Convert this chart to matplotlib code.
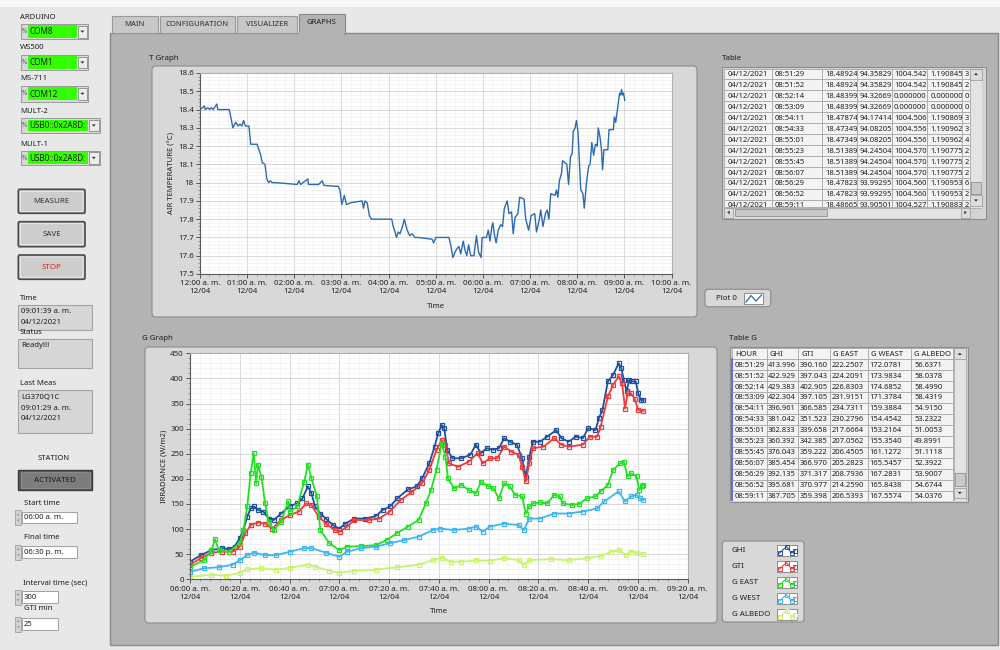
import matplotlib
matplotlib.use("Agg")
import matplotlib.pyplot as plt
from matplotlib import font_manager as fm
from matplotlib.patches import Rectangle, FancyBboxPatch, Polygon
from matplotlib.ticker import AutoMinorLocator

# ------------------------------------------------------------------ data
T_MINUTES = [0, 3.2, 5.5, 6.8, 10, 12.3, 14.5, 16.8, 21.4, 22.7, 37.3, 39.5, 41.8, 45.5, 48.6,
             50.9, 53.2, 55.5, 57.7, 62.3, 64.5, 72.7, 75, 77.3, 79.1, 82.7, 85, 87.3, 89.5, 91.8,
             96.4, 123.6, 126, 128, 137.3, 138, 151, 155.5, 157.7, 172.7, 176, 178, 180.5, 183.6,
             186.4, 191.8, 206.4, 208, 210, 212.7, 215.5, 218, 244, 245.9, 248.2, 250, 252.3,
             254.5, 257.7, 260, 263.6, 266.8, 270, 273.6, 277.3, 287.3, 295.5, 297.3, 300, 316.8,
             319, 321.8, 324.5, 327.3, 329.5, 331.8, 335, 337.3, 339.5, 341.8, 344.5, 348.6, 351.8,
             354.5, 357.7, 359, 364.5, 366.8, 369, 371.4, 372.7, 374.5, 376.8, 379.5, 382.7, 385,
             387.3, 390.9, 393.2, 396.4, 398.6, 400.9, 404.5, 406.8, 412.3, 414.5, 418.2, 421.4,
             426, 428.2, 431.4, 433.6, 436.4, 439.5, 441.8, 444, 446.4, 451.8, 453.6, 455.5, 457.3,
             460, 461.4, 466.8, 469, 471.4, 473.6, 475, 477.3, 479, 481, 482.7, 484.5, 487.3, 489,
             491.8, 494.5, 496.4, 498.6, 500.9, 503.2, 505.5, 506.8, 509, 510.9, 512.3, 514, 519,
             520.5, 526, 527.3, 529, 531.8, 534, 535.5, 536.4, 537.7, 539, 540.5]
T_VALUES = [18.40, 18.41, 18.42, 18.40, 18.41, 18.40, 18.41, 18.40, 18.43, 18.40, 18.40, 18.35,
            18.30, 18.33, 18.31, 18.32, 18.31, 18.34, 18.31, 18.31, 18.21, 18.21, 18.18, 18.15,
            18.11, 18.10, 18.02, 18.00, 18.01, 18.00, 18.00, 17.99, 18.01, 17.99, 18.02, 17.99,
            17.99, 18.01, 17.985, 17.98, 17.98, 17.96, 17.88, 17.93, 17.88, 17.89, 17.90, 17.86,
            17.90, 17.89, 17.82, 17.80, 17.80, 17.76, 17.73, 17.70, 17.73, 17.72, 17.76, 17.80,
            17.74, 17.71, 17.72, 17.70, 17.70, 17.695, 17.69, 17.67, 17.70, 17.70, 17.66, 17.59,
            17.62, 17.64, 17.65, 17.61, 17.68, 17.63, 17.60, 17.66, 17.60, 17.60, 17.71, 17.62,
            17.59, 17.70, 17.70, 17.74, 17.68, 17.76, 17.78, 17.72, 17.67, 17.74, 17.77, 17.76,
            17.86, 17.90, 17.83, 17.84, 17.72, 17.81, 17.83, 17.92, 17.91, 17.80, 17.74, 17.82,
            17.83, 17.73, 17.79, 17.85, 17.76, 17.83, 17.85, 17.80, 17.94, 17.93, 17.96, 17.92,
            18.01, 18.05, 18.12, 18.10, 17.99, 18.14, 18.16, 18.28, 18.30, 18.34, 18.28, 18.12,
            17.96, 17.94, 17.86, 18.00, 18.09, 18.10, 18.22, 18.15, 18.21, 18.20, 18.30, 18.25,
            18.18, 18.07, 18.18, 18.18, 18.29, 18.29, 18.36, 18.33, 18.42, 18.49, 18.48, 18.51,
            18.48, 18.49, 18.45]
T_XTICKS = [0, 60, 120, 180, 240, 300, 360, 420, 480, 540, 600]
T_XTICKLABELS = ['12:00 a. m.\n12/04', '01:00 a. m.\n12/04', '02:00 a. m.\n12/04',
                 '03:00 a. m.\n12/04', '04:00 a. m.\n12/04', '05:00 a. m.\n12/04',
                 '06:00 a. m.\n12/04', '07:00 a. m.\n12/04', '08:00 a. m.\n12/04',
                 '09:00 a. m.\n12/04', '10:00 a. m.\n12/04']
T_YTICKS = [17.5, 17.6, 17.7, 17.8, 17.9, 18.0, 18.1, 18.2, 18.3, 18.4, 18.5, 18.6]
T_YTICKLABELS = ['17.5', '17.6', '17.7', '17.8', '17.9', '18', '18.1', '18.2', '18.3', '18.4',
                 '18.5', '18.6']

# G graph: minutes after 06:00
GHI_MIN = [0, 4.3, 8.6, 12.9, 15.8, 17.9, 20, 21.5, 23, 24.4, 25.8, 27.3, 29.4, 31.6, 33.7, 36.6,
           40.2, 43.1, 45.2, 47.4, 48.8, 50.3, 52.4, 54.6, 57.4, 60, 62.5, 66, 70.4, 74.7, 77.5,
           80.4, 83.3, 87.6, 91.2, 93.3, 96.2, 98.3, 99.8, 101.2, 102.2, 103.4, 105.5, 109.1,
           112.7, 114.9, 117, 119.2, 122, 124.2, 126.3, 128.5, 131.4, 133.5, 135, 136.4, 137.8,
           140.7, 143.6, 147.2, 149.3, 152.2, 155.1, 157.9, 160.1, 163, 164.4, 165.8, 168, 170.1,
           172.3, 173.4, 174.4, 175.5, 176.6, 177.7, 179.2, 180.2, 181.3, 182.3]
GHI_VAL = [35, 48, 58, 62, 60, 65, 82, 98, 125, 141, 145, 138, 135, 121, 118, 131, 146, 151, 161,
           185, 171, 145, 131, 121, 108, 101, 111, 121, 121, 126, 138, 145, 161, 179, 185, 201,
           231, 264, 291, 307, 301, 258, 241, 241, 248, 268, 251, 261, 258, 261, 281, 274, 268,
           241, 204, 244, 274, 274, 284, 297, 281, 274, 284, 281, 301, 297, 321, 337, 394, 407,
           430, 420, 397, 374, 397, 394, 394, 370, 357, 357]
GTI_MIN = [0, 4.3, 8.6, 12.9, 17.2, 20, 22.3, 24.4, 27.3, 30.2, 33, 36.6, 40.2, 43.8, 46.7, 48.8,
           51.7, 54.6, 58.1, 60.3, 63.2, 66, 71.8, 76.1, 80.4, 84.7, 89, 93.3, 96.2, 99.1, 101.2,
           102.7, 104.1, 107.7, 112, 115.6, 117.7, 120.6, 123.5, 126.3, 129.2, 132.1, 133.5, 135,
           136.4, 137.8, 142.1, 146.4, 149.3, 152.2, 157.9, 160.8, 163.7, 165.1, 168, 170.1,
           172.3, 173.7, 174.9, 175.9, 177.3, 178.7, 180.2, 182.3]
GTI_VAL = [29, 42, 53, 55, 55, 65, 92, 108, 113, 111, 101, 118, 128, 135, 151, 148, 125, 111, 98,
           95, 105, 118, 118, 121, 135, 158, 173, 191, 218, 258, 277, 268, 231, 224, 234, 251,
           231, 241, 241, 264, 254, 248, 224, 195, 231, 261, 264, 281, 268, 264, 268, 284, 284,
           304, 364, 387, 404, 390, 340, 370, 370, 360, 337, 335]
GEAST_MIN = [0, 5.7, 8.6, 10.1, 11.5, 15.8, 20, 21.5, 23, 24.4, 25.6, 26.6, 27.3, 28.7, 30.2,
             31.6, 33.7, 36.6, 39.5, 40.2, 43.1, 45.9, 47.4, 48.8, 51, 52.4, 56, 60, 63.2, 68.9,
             74.7, 79, 83.3, 87.6, 91.9, 94.8, 96.9, 99.1, 101.2, 102.7, 103.7, 106.2, 109.1, 112,
             114.9, 117, 119.9, 122, 124.2, 126.3, 128.5, 130.7, 133.5, 135, 136.4, 137.8, 140.7,
             143.6, 146.4, 148.6, 150, 153.6, 156.5, 159.4, 163, 165.1, 168, 170.1, 173, 174.4,
             175.9, 177.3, 179.5, 180.6, 181.6, 182.3]
GEAST_VAL = [25, 38, 58, 80, 58, 55, 72, 98, 145, 211, 251, 191, 228, 204, 151, 115, 98, 115, 155,
             135, 145, 194, 228, 201, 165, 98, 72, 58, 65, 66, 68, 78, 92, 105, 118, 151, 178, 218,
             271, 244, 201, 181, 188, 178, 171, 194, 185, 181, 161, 191, 185, 168, 165, 131, 145,
             151, 153, 151, 168, 165, 151, 148, 150, 161, 165, 175, 188, 218, 231, 234, 205, 211,
             205, 178, 186, 188]
GWEST_MIN = [0, 5.7, 11.5, 17.2, 20, 23, 25.8, 30.2, 34.5, 40.2, 45.9, 48.8, 54.6, 60, 63.2, 68.9,
             74.7, 80.4, 86.1, 91.9, 97.6, 100.5, 106.2, 112, 114.9, 117.7, 120.6, 126.3, 132.1,
             134.2, 136.4, 140.7, 146.4, 152.2, 157.9, 163.7, 166.5, 172.3, 174.9, 177.3, 179.5,
             180.9, 182.3]
GWEST_VAL = [15, 22, 24, 29, 38, 48, 53, 48, 48, 55, 62, 62, 53, 45, 55, 62, 65, 72, 78, 85, 98,
             101, 98, 101, 105, 95, 105, 111, 108, 98, 121, 121, 131, 131, 135, 141, 155, 175, 155,
             165, 168, 161, 158]
GALB_MIN = [0, 8.6, 14.4, 20, 23, 28.7, 34.5, 40.2, 47.4, 50.3, 56, 60, 66, 74.7, 83.3, 91.9, 97.6,
            101.2, 104.8, 109.1, 114.9, 120.6, 126.3, 132.1, 134.2, 136.4, 145, 152.2, 159.4,
            165.1, 169.4, 172.3, 175.2, 177.3, 179.5, 182.3]
GALB_VAL = [5, 9, 7, 13, 20, 22, 19, 23, 29, 25, 17, 13, 17, 19, 24, 29, 38, 43, 35, 35, 38, 37,
            42, 38, 29, 38, 40, 38, 42, 46, 55, 58, 48, 55, 53, 50]
G_NAMES = ['GHI', 'GTI', 'G EAST', 'G WEST', 'G ALBEDO']
G_COLORS = ['#1f4f9f', '#f03a3a', '#22e022', '#3cb6f4', '#c8f36c']
G_XTICKS = [0, 20, 40, 60, 80, 100, 120, 140, 160, 180, 200]
G_XTICKLABELS = ['06:00 a. m.\n12/04', '06:20 a. m.\n12/04', '06:40 a. m.\n12/04',
                 '07:00 a. m.\n12/04', '07:20 a. m.\n12/04', '07:40 a. m.\n12/04',
                 '08:00 a. m.\n12/04', '08:20 a. m.\n12/04', '08:40 a. m.\n12/04',
                 '09:00 a. m.\n12/04', '09:20 a. m.\n12/04']
G_YTICKS = [0, 50, 100, 150, 200, 250, 300, 350, 400, 450]

TABLE_T_ROWS = [
    ['04/12/2021', '08:51:29', '18.48924', '94.35829', '1004.542', '1.190845', '3'],
    ['04/12/2021', '08:51:52', '18.48924', '94.35829', '1004.542', '1.190845', '2'],
    ['04/12/2021', '08:52:14', '18.48399', '94.32669', '0.000000', '0.000000', '0'],
    ['04/12/2021', '08:53:09', '18.48399', '94.32669', '0.000000', '0.000000', '0'],
    ['04/12/2021', '08:54:11', '18.47874', '94.17414', '1004.506', '1.190869', '3'],
    ['04/12/2021', '08:54:33', '18.47349', '94.08205', '1004.556', '1.190962', '3'],
    ['04/12/2021', '08:55:01', '18.47349', '94.08205', '1004.556', '1.190962', '4'],
    ['04/12/2021', '08:55:23', '18.51389', '94.24504', '1004.570', '1.190775', '2'],
    ['04/12/2021', '08:55:45', '18.51389', '94.24504', '1004.570', '1.190775', '2'],
    ['04/12/2021', '08:56:07', '18.51389', '94.24504', '1004.570', '1.190775', '2'],
    ['04/12/2021', '08:56:29', '18.47823', '93.99295', '1004.560', '1.190953', '6'],
    ['04/12/2021', '08:56:52', '18.47823', '93.99295', '1004.560', '1.190953', '2'],
    ['04/12/2021', '08:59:11', '18.48665', '93.90501', '1004.527', '1.190883', '2'],
]
TABLE_G_HEADER = ['HOUR', 'GHI', 'GTI', 'G EAST', 'G WEAST', 'G ALBEDO']
TABLE_G_ROWS = [
    ['08:51:29', '413.996', '390.160', '222.2507', '172.0781', '56.6371'],
    ['08:51:52', '422.929', '397.043', '224.2091', '173.9834', '58.0378'],
    ['08:52:14', '429.383', '402.905', '226.8303', '174.6852', '58.4990'],
    ['08:53:09', '422.304', '397.105', '231.9151', '171.3784', '58.4319'],
    ['08:54:11', '396.961', '366.585', '234.7311', '159.3884', '54.9150'],
    ['08:54:33', '381.042', '351.523', '230.2796', '154.4542', '53.2322'],
    ['08:55:01', '362.833', '339.658', '217.6664', '153.2164', '51.0053'],
    ['08:55:23', '360.392', '342.385', '207.0562', '155.3540', '49.8991'],
    ['08:55:45', '376.043', '359.222', '206.4505', '161.1272', '51.1118'],
    ['08:56:07', '385.454', '366.970', '205.2823', '165.5457', '52.3922'],
    ['08:56:29', '392.135', '371.317', '208.7936', '167.2831', '53.9007'],
    ['08:56:52', '395.681', '370.977', '214.2590', '165.8438', '54.6744'],
    ['08:59:11', '387.705', '359.398', '206.5393', '167.5574', '54.0376'],
]
TABS = ['MAIN', 'CONFIGURATION', 'VISUALIZER', 'GRAPHS']
PORT_LABELS = ['ARDUINO', 'WS500', 'MS-711', 'MULT-2', 'MULT-1']
PORT_VALUES = ['COM8', 'COM1', 'COM12', 'USB0::0x2A8D:', 'USB0::0x2A8D:']
BUTTONS = ['MEASURE', 'SAVE', 'STOP']
TIME_TEXT = ['09:01:39 a. m.', '04/12/2021']
STATUS_TEXT = ['Ready!!!']
LAST_MEAS_TEXT = ['LG370Q1C', '09:01:29 a. m.', '04/12/2021']
NUMERIC_LABELS = ['Start time', 'Final time', 'Interval time (sec)', 'GTI min']
NUMERIC_VALUES = ['06:00 a. m.', '06:30 p. m.', '300', '25']

# ------------------------------------------------------------------ fonts
_names = {f.name for f in fm.fontManager.ttflist}
if 'Liberation Sans Narrow' in _names:
    plt.rcParams['font.family'] = ['Liberation Sans Narrow', 'DejaVu Sans']
    FS = 1.0
else:
    plt.rcParams['font.family'] = ['Noto Sans', 'DejaVu Sans']
    FS = 0.84


def F(s):
    return s * FS


# ------------------------------------------------------------------ canvas
W, H = 1000, 650
fig = plt.figure(figsize=(W / 100, H / 100), dpi=100)
fig.patch.set_facecolor('#e8e8e8')
bg = fig.add_axes([0, 0, 1, 1])
bg.set_xlim(0, W)
bg.set_ylim(H, 0)
bg.axis('off')


def box(x0, y0, x1, y1, fc, ec='none', lw=0.8, z=1, r=0):
    if r:
        p = FancyBboxPatch((x0, y0), x1 - x0, y1 - y0,
                           boxstyle=f'round,pad=0,rounding_size={r}',
                           fc=fc, ec=ec, lw=lw, zorder=z)
    else:
        p = Rectangle((x0, y0), x1 - x0, y1 - y0, fc=fc, ec=ec, lw=lw, zorder=z)
    bg.add_patch(p)
    return p


def txt(x, y, s, size=6.6, ha='left', va='center', color='#1e1e1e', z=6, **kw):
    return bg.text(x, y, s, fontsize=F(size), ha=ha, va=va, color=color, zorder=z, **kw)


def tri(cx, cy, d, s=2.0, color='#303030', z=9):
    if d == 'up':
        pts = [(cx - s, cy + s * 0.55), (cx + s, cy + s * 0.55), (cx, cy - s * 0.55)]
    elif d == 'down':
        pts = [(cx - s, cy - s * 0.55), (cx + s, cy - s * 0.55), (cx, cy + s * 0.55)]
    elif d == 'left':
        pts = [(cx + s * 0.55, cy - s), (cx + s * 0.55, cy + s), (cx - s * 0.55, cy)]
    else:
        pts = [(cx - s * 0.55, cy - s), (cx - s * 0.55, cy + s), (cx + s * 0.55, cy)]
    bg.add_patch(Polygon(pts, closed=True, fc=color, ec='none', zorder=z))


def px_axes(x0, y0, x1, y1):
    return fig.add_axes([x0 / W, 1 - y1 / H, (x1 - x0) / W, (y1 - y0) / H])


# ------------------------------------------------------------------ window chrome
box(0, 0, W, 7, '#f8f8f8', z=0.5)
box(110, 33, 998, 645, '#b3b3b3', ec='#8a8a8a', lw=1.0, z=0.6)
tab_x = [(112, 157.5), (159.5, 235), (237, 296.5), (298.5, 345)]
for (a, b), name in zip(tab_x, TABS):
    if name == 'GRAPHS':
        box(a, 14, b, 34, '#b3b3b3', ec='#8a8a8a', lw=0.8, z=0.8)
        box(a + 0.7, 32, b - 0.7, 35, '#b3b3b3', z=0.9)
        txt((a + b) / 2, 22.5, name, ha='center', size=6.6)
    else:
        box(a, 16, b, 33, '#c8c8c8', ec='#9a9a9a', lw=0.8, z=0.8)
        txt((a + b) / 2, 24.5, name, ha='center', size=6.6, color='#303030')

# ------------------------------------------------------------------ left panel
combo_geom = [(17.3, 24, 39.3, 88.3, 77), (47.3, 55, 70, 88.3, 77), (78.3, 86, 101.7, 88.3, 77),
              (111.7, 118.3, 132.7, 100, 88), (144, 150.7, 165.3, 100, 88)]
for (ly, y0, y1, xr, xg), lab, val in zip(combo_geom, PORT_LABELS, PORT_VALUES):
    txt(20, ly, lab, size=6.6)
    box(20.5, y0, xr, y1, '#d8d8d8', ec='#9a9a9a', lw=0.7, z=2)
    txt(24.3, (y0 + y1) / 2, '%', size=5.4, ha='center', color='#555555', z=3)
    box(28, y0 + 1.3, xg, y1 - 1.3, '#33ff00', z=3)
    txt(29.3, (y0 + y1) / 2 + 0.3, val, size=7.0, z=4)
    box(xg + 0.8, y0 + 1.6, xr - 1.3, y1 - 1.6, '#ececec', ec='#8a8a8a', lw=0.6, z=5)
    tri((xg + 0.8 + xr - 1.3) / 2, (y0 + y1) / 2, 'down', s=2.0)

btn_geom = [(189.3, 213.3, '#333333'), (221.7, 246.7, '#333333'), (255, 279.3, '#e8201b')]
for (a, b, col), lab in zip(btn_geom, BUTTONS):
    box(18.3, a, 85, b, '#c4c4c4', ec='#4a4a4a', lw=1.2, z=2, r=1.5)
    box(20.3, a + 2, 83, b - 2, '#cdcdcd', ec='#efefef', lw=0.6, z=2.1, r=1)
    txt(51.7, (a + b) / 2, lab, ha='center', size=6.8, color=col, z=3)

txt(20, 298.3, 'Time', size=6.6)
box(18.3, 305, 91.7, 330, '#d6d6d6', ec='#a3a3a3', lw=0.8, z=2)
for i, s in enumerate(TIME_TEXT):
    txt(21, 311.6 + i * 11, s, size=6.6, z=3)
txt(20, 332.8, 'Status', size=6.6)
box(18.3, 339.3, 91.7, 367.7, '#d6d6d6', ec='#a3a3a3', lw=0.8, z=2)
for i, s in enumerate(STATUS_TEXT):
    txt(21, 345.8 + i * 11, s, size=6.6, z=3)
txt(20, 383.3, 'Last Meas', size=6.6)
box(18.3, 390, 91.7, 433.3, '#d6d6d6', ec='#a3a3a3', lw=0.8, z=2)
for i, s in enumerate(LAST_MEAS_TEXT):
    txt(21, 397 + i * 11, s, size=6.6, z=3)

txt(53.3, 458.3, 'STATION', ha='center', size=6.6)
box(18.3, 470, 91.7, 490, '#5e5e5e', ec='#3a3a3a', lw=1.0, z=2)
box(20.5, 472.2, 89.5, 487.8, '#7d7d7d', ec='#909090', lw=0.6, z=2.1)
txt(55, 480, 'ACTIVATED', ha='center', size=6.8, color='#1a1a1a', z=3)

num_geom = [(24, 503.3, 511.7, 523.3, 76.7), (24, 537.3, 546, 558.3, 76.7),
            (22.7, 583.3, 591, 603.3, 58.3), (24, 608.3, 618.3, 630, 58.3)]
for (lx, ly, y0, y1, xr), lab, val in zip(num_geom, NUMERIC_LABELS, NUMERIC_VALUES):
    txt(lx, ly, lab, size=6.6)
    box(15, y0 - 1.5, 21.3, y1 + 1.5, '#d2d2d2', ec='#a0a0a0', lw=0.6, z=2)
    tri(18.2, (y0 + y1) / 2 - 3, 'up', s=1.6, color='#909090')
    tri(18.2, (y0 + y1) / 2 + 3, 'down', s=1.6, color='#909090')
    box(21.7, y0, xr, y1, 'white', ec='#a0a0a0', lw=0.7, z=2)
    txt(23.5, (y0 + y1) / 2 + 0.3, val, size=6.6, z=3)

# ------------------------------------------------------------------ graph frames
box(152, 66, 697, 317, '#d8d8d8', ec='#8c8c8c', lw=0.8, z=1, r=4)
txt(149, 58, 'T Graph', size=6.8)
box(145, 347, 717, 623, '#d8d8d8', ec='#8c8c8c', lw=0.8, z=1, r=4)
txt(142, 338.5, 'G Graph', size=6.8)


def style(ax):
    ax.set_facecolor('white')
    for s in ['top', 'right']:
        ax.spines[s].set_color('#b0b0b0')
    for s in ['left', 'bottom']:
        ax.spines[s].set_color('#5a5a5a')
    for s in ax.spines.values():
        s.set_linewidth(0.8)
    ax.xaxis.set_minor_locator(AutoMinorLocator(5))
    ax.yaxis.set_minor_locator(AutoMinorLocator(5))
    ax.grid(which='major', color='#d2d2d2', lw=0.6)
    ax.grid(which='minor', color='#ececec', lw=0.4)
    ax.set_axisbelow(True)
    ax.tick_params(which='major', length=3, width=0.7, color='#555555',
                   labelsize=F(6.8), labelcolor='#222222', pad=1.5)
    ax.tick_params(which='minor', length=1.5, width=0.5, color='#777777')


# T graph
axT = px_axes(200, 73, 671.5, 274)
style(axT)
n = min(len(T_MINUTES), len(T_VALUES))
axT.plot(T_MINUTES[:n], T_VALUES[:n], color='#2c6ab2', lw=1.0)
axT.set_xlim(0, 600)
axT.set_ylim(17.5, 18.6)
axT.set_xticks(T_XTICKS)
axT.set_xticklabels(T_XTICKLABELS)
axT.set_yticks(T_YTICKS)
axT.set_yticklabels(T_YTICKLABELS)
axT.set_xlabel('Time', fontsize=F(6.8), color='#222222')
axT.xaxis.set_label_coords(0.5, -(306.7 - 274) / 201)
axT.xaxis.label.set_va('center')
axT.set_ylabel('AIR TEMPERATURE (°C)', fontsize=F(6.6), color='#222222')
axT.yaxis.set_label_coords(-(200 - 172) / 471.5, 0.5)
axT.yaxis.label.set_va('center')

# G graph
axG = px_axes(190, 353.3, 687.5, 579.3)
style(axG)
g_series = [(GHI_MIN, GHI_VAL), (GTI_MIN, GTI_VAL), (GEAST_MIN, GEAST_VAL),
            (GWEST_MIN, GWEST_VAL), (GALB_MIN, GALB_VAL)]
for (m, v), c, name in zip(g_series, G_COLORS, G_NAMES):
    k = min(len(m), len(v))
    axG.plot(m[:k], v[:k], color=c, lw=1.3, marker='s', ms=3.0, mfc='none', mew=0.9,
             label=name)
axG.set_xlim(0, 200)
axG.set_ylim(0, 450)
axG.set_xticks(G_XTICKS)
axG.set_xticklabels(G_XTICKLABELS)
axG.set_yticks(G_YTICKS)
axG.set_xlabel('Time', fontsize=F(6.8), color='#222222')
axG.xaxis.set_label_coords(0.5, -(611.7 - 579.3) / 226)
axG.xaxis.label.set_va('center')
axG.set_ylabel('IRRADIANCE (W/m2)', fontsize=F(6.6), color='#222222')
axG.yaxis.set_label_coords(-(190 - 164) / 497.5, 0.5)
axG.yaxis.label.set_va('center')

# ------------------------------------------------------------------ plot legends
box(705, 289.3, 770.7, 306.7, '#d8d8d8', ec='#8c8c8c', lw=0.8, z=2, r=3)
txt(716, 298.3, 'Plot 0', size=6.8, z=3)
box(744.3, 293.3, 763.3, 304, 'white', ec='#808080', lw=0.6, z=3)
bg.plot([746, 751, 756, 761.5], [302, 295.5, 301, 295], color='#2c6ab2', lw=0.9, zorder=4)

box(722.3, 541, 804, 622, '#d8d8d8', ec='#8c8c8c', lw=0.8, z=2, r=3)
for i, (name, c) in enumerate(zip(G_NAMES, G_COLORS)):
    yc = 550 + i * 16
    txt(731.7, yc, name, size=6.8, z=3)
    box(777.3, yc - 5.5, 796.7, yc + 5.5, 'white', ec='#808080', lw=0.6, z=3)
    bg.plot([779.5, 786.5, 791.5, 795], [yc + 3, yc - 3.5, yc + 3, yc + 0.5], color=c, lw=0.8,
            marker='s', ms=2.2, mfc='none', mew=0.7, zorder=4)


def table_cells(cols, top, bottom, rows, pads, row_h, zbase):
    # each column's cell covers the overflow of the previous column's text
    for i, row in enumerate(rows):
        y0 = top + i * row_h
        if y0 >= bottom:
            break
        y1 = min(y0 + row_h, bottom)
        for j, val in enumerate(row):
            x0, x1 = cols[j], cols[j + 1]
            zc = zbase + 0.02 * j
            box(x0, y0, x1, y1, '#f3f3f3', ec='#a8a8a8', lw=0.6, z=zc)
            txt(x0 + pads[j], y0 + row_h / 2 + 0.3, val, size=6.5, z=zc + 0.01)


# ------------------------------------------------------------------ Table (T)
txt(722, 58, 'Table', size=6.8)
box(721.5, 66.5, 986, 219, '#d3d3d3', ec='#8c8c8c', lw=0.8, z=1)
row_h = 10.97
table_cells([724, 771.7, 821.7, 856.7, 891.7, 926.7, 961.7, 970], 68.5, 207.5, TABLE_T_ROWS,
            [3.3, 3.3, 3.2, 3.0, 2.4, 3.6, 3.0], row_h, 2.0)
# vertical scrollbar
box(970, 68.5, 982, 207.5, '#e3e3e3', ec='#ababab', lw=0.6, z=8)
box(970, 68.5, 982, 79.5, '#dcdcdc', ec='#a0a0a0', lw=0.6, z=8.5)
tri(976, 74, 'up', s=2.0)
box(971, 182, 981, 193.5, '#c9c9c9', ec='#8f8f8f', lw=0.6, z=8.5)
box(970, 195, 982, 206, '#dcdcdc', ec='#a0a0a0', lw=0.6, z=8.5)
tri(976, 200.5, 'down', s=2.0)
box(982.3, 68, 985.5, 218.5, '#d3d3d3', z=8)
# horizontal scrollbar
box(724, 207.5, 970, 217.5, '#e3e3e3', ec='#ababab', lw=0.6, z=8)
box(724, 207.5, 733, 217.5, '#dcdcdc', ec='#a0a0a0', lw=0.6, z=8.5)
tri(728.5, 212.5, 'left', s=2.0)
box(735, 209, 827, 216, '#c9c9c9', ec='#8f8f8f', lw=0.6, z=8.5)
box(961, 207.5, 970, 217.5, '#dcdcdc', ec='#a0a0a0', lw=0.6, z=8.5)
tri(965.5, 212.5, 'right', s=2.0)

# ------------------------------------------------------------------ Table G
txt(729, 339, 'Table G', size=6.8)
box(729.5, 346.5, 968, 502, '#d3d3d3', ec='#8c8c8c', lw=0.8, z=1)
tg_cols = [731.7, 766.7, 798.3, 830, 867.7, 910.7, 953.3]
table_cells(tg_cols, 348.3, 359.3, [TABLE_G_HEADER], [3.3] * 6, 11.0, 2.0)
table_cells(tg_cols, 359.3, 500.5, TABLE_G_ROWS, [3.0, 1.4, 1.4, 1.4, 2.0, 3.3], row_h, 2.0)
bg.plot([732.3, 732.3], [359.3, 500.5], color='#5a5af0', lw=1.2, zorder=7)
box(953.6, 348.3, 966, 500.5, '#e3e3e3', ec='#ababab', lw=0.6, z=8)
box(953.6, 348.3, 966, 359.3, '#dcdcdc', ec='#a0a0a0', lw=0.6, z=8.5)
tri(959.8, 353.8, 'up', s=2.0)
box(954.6, 473.3, 965.0, 485.7, '#c9c9c9', ec='#8f8f8f', lw=0.6, z=8.5)
box(953.6, 488, 966, 498, '#dcdcdc', ec='#a0a0a0', lw=0.6, z=8.5)
tri(959.8, 493, 'down', s=2.0)
box(730.2, 500.6, 967.5, 501.6, '#d3d3d3', z=8)
box(724, 217.6, 970, 218.6, '#d3d3d3', z=8)

fig.savefig('out.png', dpi=100, facecolor=fig.get_facecolor())
